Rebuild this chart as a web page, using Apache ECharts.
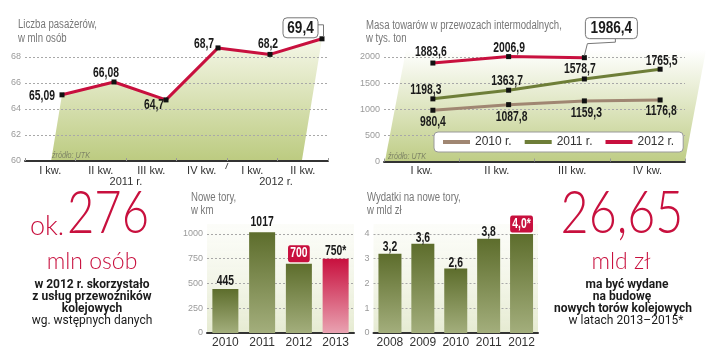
<!DOCTYPE html>
<html><head><meta charset="utf-8">
<script src="https://cdn.jsdelivr.net/npm/echarts@6/dist/echarts.min.js"></script>
<style>html,body{margin:0;padding:0;background:#fff;}#c{width:720px;height:356px;}</style>
</head><body><div id="c"></div>
<script>
// ---------- data ----------
const passengerQuarters = ['I kw.', 'II kw.', 'III kw.', 'IV kw.', 'I kw.', 'II kw.'];
const passengerValues = [65.09, 66.08, 64.7, 68.7, 68.2, 69.4];
const passengerYears = ['2011 r.', '2012 r.'];
const passengerTicks = [60, 70, 2];

const freightQuarters = ['I kw.', 'II kw.', 'III kw.', 'IV kw.'];
const freightNames = ['2010 r.', '2011 r.', '2012 r.'];
const freight2010 = [980.4, 1087.8, 1159.3, 1176.8];
const freight2011 = [1198.3, 1363.7, 1578.7, 1765.5];
const freight2012 = [1883.6, 2006.9, 1986.4, null];
const freightTicks = [0, 2200, 500];

const trackYears = ['2010', '2011', '2012', '2013'];
const trackKm = [445, 1017, 700, 750];
const trackNotes = ['', '', '', '*'];
const trackTicks = [0, 1100, 250];

const spendYears = ['2008', '2009', '2010', '2011', '2012'];
const spendBn = [3.2, 3.6, 2.6, 3.8, 4.0];
const spendNotes = ['', '', '', '', '*'];
const spendTicks = [0, 4.4, 1];

// ---------- styles ----------
const RED = '#c8103e', OLIVE = '#6e7e38', BROWN = '#a08672';
const SANS = '"Liberation Sans",Arial,sans-serif';
const LIGHT = 'Lato,"Open Sans",sans-serif';
const G = echarts.graphic;
const oliveGrad = new G.LinearGradient(0, 0, 0, 1, [{offset: 0, color: '#5d6d2c'}, {offset: 1, color: '#a3ae7c'}]);
const redGrad = new G.LinearGradient(0, 0, 0, 1, [{offset: 0, color: '#c8103e'}, {offset: 1, color: '#e9a2b1'}]);
const comma = v => String(v).replace('.', ',');
const comma1 = v => v.toFixed(1).replace('.', ',');
const LABEL_FONT = 'bold 14px ' + SANS;
const NARROW_SCALE = 0.74;
const redBox = {fill: '#fff', backgroundColor: RED, padding: [2, 3, 1, 3], borderRadius: 3};

// label offsets (px from the point / bar top), styling only
const passengerLabelOff = [[-20, 1], [-8, -9], [-12, 5], [-14, -4], [-2, -10], null];
const f2010LabelOff = [[0, 11.5], [3, 13], [2, 12], [1, 11]];
const f2011LabelOff = [[-7, -9], [-1.5, -9], [-4.5, -10], [1.5, -8]];
const f2012LabelOff = [[-2, -11], [0.5, -8.6], null, null];
const trackLabelOff = [[0, -8], [0, -10], [0, -10], [0, -8]];
const trackLabelBox = [null, null, redBox, null];
const spendLabelOff = [[0, -7], [0, -6], [0, -5], [0, -7], [0, -10]];
const spendLabelBox = [null, null, null, null, redBox];
const trackBarColor = [oliveGrad, oliveGrad, oliveGrad, redGrad];
// callout boxes: [dx, dy, w, h] relative to point, connector points
const passengerCallout = {index: 5, box: [-39, -21, 35, 20], line: [[-5, -14], [1.5, -14], [1.5, -2]]};
const freightCallout = {index: 2, box: [1, -40, 52, 21], line: [[31, -19], [31, -15.5], [3, -14], [0, -2]]};

function labelSeries(xi, yi, values, offsets, fmt, boxes) {
  return {
    type: 'custom', xAxisIndex: xi, yAxisIndex: yi, z: 6, silent: true, clip: false,
    data: values.map((v, i) => [i, v == null ? 0 : v]),
    renderItem: function (params, api) {
      const i = params.dataIndex, v = values[i], off = offsets[i];
      if (v == null || !off) return;
      const p = api.coord([i, v]);
      return {type: 'text', x: p[0] + off[0], y: p[1] + off[1], scaleX: NARROW_SCALE,
        style: Object.assign({text: fmt(v, i), font: LABEL_FONT, fill: '#1a1a1a',
          textAlign: 'center', textVerticalAlign: 'middle'}, (boxes && boxes[i]) || {})};
    }
  };
}
function calloutSeries(xi, yi, values, c) {
  return {
    type: 'custom', xAxisIndex: xi, yAxisIndex: yi, z: 7, silent: true, clip: false,
    data: [[c.index, values[c.index]]],
    renderItem: function (params, api) {
      const p = api.coord([c.index, values[c.index]]);
      const b = c.box;
      return {type: 'group', children: [
        {type: 'polyline', shape: {points: c.line.map(q => [p[0] + q[0], p[1] + q[1]])},
          style: {stroke: '#777', lineWidth: 1, fill: null}},
        {type: 'rect', shape: {x: p[0] + b[0], y: p[1] + b[1], width: b[2], height: b[3], r: 4},
          style: {fill: '#fff', stroke: '#777', lineWidth: 1}},
        {type: 'text', x: p[0] + b[0] + b[2] / 2, y: p[1] + b[1] + b[3] / 2 + 0.5, scaleX: 0.85,
          style: {text: comma(values[c.index]), font: 'bold 16px ' + SANS, fill: '#1a1a1a',
            textAlign: 'center', textVerticalAlign: 'middle'}}
      ]};
    }
  };
}

const axisLabelY = {fontSize: 9, color: '#9a9a9a', margin: 4, showMaxLabel: false, fontFamily: SANS, formatter: v => String(v)};
const splitY = {show: true, showMaxLine: false, showMinLine: false, lineStyle: {color: '#a8a8a8', type: [2, 2], width: 1}};
function yAxis(grid, t, show) {
  return {type: 'value', gridIndex: grid, min: t[0], max: t[1], interval: t[2], show: show,
    axisLine: {show: false}, axisTick: {show: false}, axisLabel: axisLabelY, splitLine: splitY};
}
function xAxis(grid, cats, show, fontSize, ticks) {
  return {type: 'category', gridIndex: grid, data: cats, show: show,
    axisLine: {lineStyle: {color: '#333', width: 2}},
    axisTick: {show: ticks, inside: true, length: 3, lineStyle: {color: '#999'}},
    axisLabel: {fontSize: fontSize, color: '#333', margin: 4, fontFamily: SANS, interval: 0}};
}

const chart = echarts.init(document.getElementById('c'), null, {renderer: 'canvas'});

const txt = (text, x, y, font, fill, align, extra) => Object.assign({
  type: 'text', x: x, y: y, silent: true,
  style: {text: text, font: font, fill: fill, textAlign: align || 'left', textVerticalAlign: 'middle'}
}, extra || {});
const titleFont = '12px ' + SANS;
const narrow = {scaleX: 0.8};
const boldFont = 'bold 12px Roboto,sans-serif';
const normFont = '12px Roboto,sans-serif';
const plotBg = () => new G.LinearGradient(0, 0, 0, 1, [{offset: 0, color: 'rgba(240,243,225,0.2)'}, {offset: 1, color: '#e6ebd2'}]);

chart.setOption({
  animation: false,
  grid: [
    {left: 25, right: 392, top: 31, bottom: 195},
    {left: 36, right: 372, top: 31, bottom: 195},
    {left: 384, right: 35, top: 46.5, bottom: 194.5},
    {left: 395, right: 22, top: 46.5, bottom: 194.5},
    {left: 207, right: 366, top: 224, bottom: 23, show: true, borderWidth: 0, backgroundColor: plotBg()},
    {left: 373.5, right: 182, top: 224, bottom: 23, show: true, borderWidth: 0, backgroundColor: plotBg()}
  ],
  xAxis: [
    xAxis(0, passengerQuarters, true, 11, true),
    xAxis(1, passengerQuarters, false, 11, false),
    xAxis(2, freightQuarters, true, 11, true),
    xAxis(3, freightQuarters, false, 11, false),
    xAxis(4, trackYears, true, 12, false),
    xAxis(5, spendYears, true, 12, false)
  ],
  yAxis: [
    yAxis(0, passengerTicks, true), yAxis(1, passengerTicks, false),
    yAxis(2, freightTicks, true), yAxis(3, freightTicks, false),
    yAxis(4, trackTicks, true), yAxis(5, spendTicks, true)
  ],
  legend: {
    data: [
      {name: freightNames[0], itemStyle: {color: BROWN}},
      {name: freightNames[1], itemStyle: {color: OLIVE}},
      {name: freightNames[2], itemStyle: {color: RED}}
    ],
    left: 434, top: 132, padding: [4, 9], itemWidth: 27, itemHeight: 4, itemGap: 13, icon: 'rect',
    backgroundColor: '#fff', borderColor: '#999', borderWidth: 1, borderRadius: 4,
    textStyle: {fontSize: 12, color: '#333', fontFamily: SANS}, selectedMode: false
  },
  series: [
    { // green area beneath passenger line
      type: 'custom', xAxisIndex: 1, yAxisIndex: 1, z: -1, silent: true,
      data: passengerValues.map((v, i) => [i, v]),
      renderItem: function (params, api) {
        if (params.dataIndex !== 0) return;
        const pts = passengerValues.map((v, i) => api.coord([i, v]));
        const base = api.coord([0, passengerTicks[0]])[1];
        const k = 0.165;
        const a = pts[0], b = pts[pts.length - 1];
        const poly = [[a[0] - k * (base - a[1]), base]].concat(pts, [[b[0] - k * (base - b[1]), base]]);
        return {type: 'polygon', shape: {points: poly},
          style: {fill: new G.LinearGradient(0, 0, 0, 1, [{offset: 0, color: '#f5f7e8'}, {offset: 1, color: '#bccb80'}])}};
      }
    },
    {
      type: 'line', name: 'pasazerowie', xAxisIndex: 1, yAxisIndex: 1, z: 3, data: passengerValues,
      symbol: 'rect', symbolSize: 5, itemStyle: {color: '#111'}, lineStyle: {color: RED, width: 3}
    },
    {
      type: 'line', name: freightNames[0], xAxisIndex: 3, yAxisIndex: 3, z: 3, data: freight2010,
      symbol: 'rect', symbolSize: 5, itemStyle: {color: '#111'}, lineStyle: {color: BROWN, width: 3}
    },
    {
      type: 'line', name: freightNames[1], xAxisIndex: 3, yAxisIndex: 3, z: 3, data: freight2011,
      symbol: 'rect', symbolSize: 5, itemStyle: {color: '#111'}, lineStyle: {color: OLIVE, width: 3}
    },
    {
      type: 'line', name: freightNames[2], xAxisIndex: 3, yAxisIndex: 3, z: 3, data: freight2012,
      symbol: 'rect', symbolSize: 5, itemStyle: {color: '#111'}, lineStyle: {color: RED, width: 3}
    },
    {
      type: 'bar', xAxisIndex: 4, yAxisIndex: 4, barWidth: 26,
      data: trackKm.map((v, i) => ({value: v, itemStyle: {color: trackBarColor[i]}}))
    },
    {
      type: 'bar', xAxisIndex: 5, yAxisIndex: 5, barWidth: 23,
      data: spendBn.map(v => ({value: v, itemStyle: {color: oliveGrad}}))
    },
    labelSeries(1, 1, passengerValues, passengerLabelOff, v => comma(v)),
    labelSeries(3, 3, freight2010, f2010LabelOff, v => comma(v)),
    labelSeries(3, 3, freight2011, f2011LabelOff, v => comma(v)),
    labelSeries(3, 3, freight2012, f2012LabelOff, v => comma(v)),
    labelSeries(4, 4, trackKm, trackLabelOff, (v, i) => comma(v) + trackNotes[i], trackLabelBox),
    labelSeries(5, 5, spendBn, spendLabelOff, (v, i) => comma1(v) + spendNotes[i], spendLabelBox),
    calloutSeries(1, 1, passengerValues, passengerCallout),
    calloutSeries(3, 3, freight2012, freightCallout)
  ],
  graphic: [
    {type: 'polygon', z: -5, silent: true, shape: {points: [[385, 161], [685, 161], [706, 50], [406, 50]]},
      style: {fill: new G.LinearGradient(0, 0, 0, 1, [{offset: 0, color: '#ffffff'}, {offset: 1, color: '#bfcd86'}])}},
    txt('Liczba pasażerów,', 18, 25, titleFont, '#777', 'left', narrow),
    txt('w mln osób', 18, 39, titleFont, '#777', 'left', narrow),
    txt('Masa towarów w przewozach intermodalnych,', 366, 26, titleFont, '#777', 'left', narrow),
    txt('w tys. ton', 366, 39, titleFont, '#777', 'left', narrow),
    txt('Nowe tory,', 191, 198, titleFont, '#777', 'left', narrow),
    txt('w km', 191, 211, titleFont, '#777', 'left', narrow),
    txt('Wydatki na nowe tory,', 367, 198, titleFont, '#777', 'left', narrow),
    txt('w mld zł', 367, 211, titleFont, '#777', 'left', narrow),
    txt('źródło: UTK', 52, 155, 'italic 9px ' + SANS, '#7f8566', 'left', narrow),
    txt('źródło: UTK', 388, 156, 'italic 9px ' + SANS, '#7f8566', 'left', narrow),
    txt(passengerYears[0], 126, 182, '11px ' + SANS, '#333', 'center'),
    txt(passengerYears[1], 276, 182, '11px ' + SANS, '#333', 'center'),
    {type: 'line', silent: true, shape: {x1: 228, y1: 163, x2: 225.5, y2: 169}, style: {stroke: '#555', lineWidth: 1}},
    txt('ok.', 47, 226, '300 27px ' + LIGHT, RED, 'center'),
    txt('276', 108, 214, '300 59px ' + LIGHT, RED, 'center', {scaleX: 0.8}),
    txt('mln osób', 92, 262, '300 23px ' + LIGHT, RED, 'center'),
    txt('w 2012 r. skorzystało', 92, 285, boldFont, '#1a1a1a', 'center'),
    txt('z usług przewoźników', 92, 297, boldFont, '#1a1a1a', 'center'),
    txt('kolejowych', 92, 309, boldFont, '#1a1a1a', 'center'),
    txt('wg. wstępnych danych', 92, 321, normFont, '#1a1a1a', 'center'),
    txt('26,65', 622, 214, '300 59px ' + LIGHT, RED, 'center', {scaleX: 0.82}),
    txt('mld zł', 621, 262, '300 23px ' + LIGHT, RED, 'center'),
    txt('ma być wydane', 627, 285, boldFont, '#1a1a1a', 'center'),
    txt('na budowę', 622, 297, boldFont, '#1a1a1a', 'center'),
    txt('nowych torów kolejowych', 623, 309, boldFont, '#1a1a1a', 'center'),
    txt('w latach 2013–2015*', 626, 321, normFont, '#1a1a1a', 'center')
  ]
});
</script></body></html>
